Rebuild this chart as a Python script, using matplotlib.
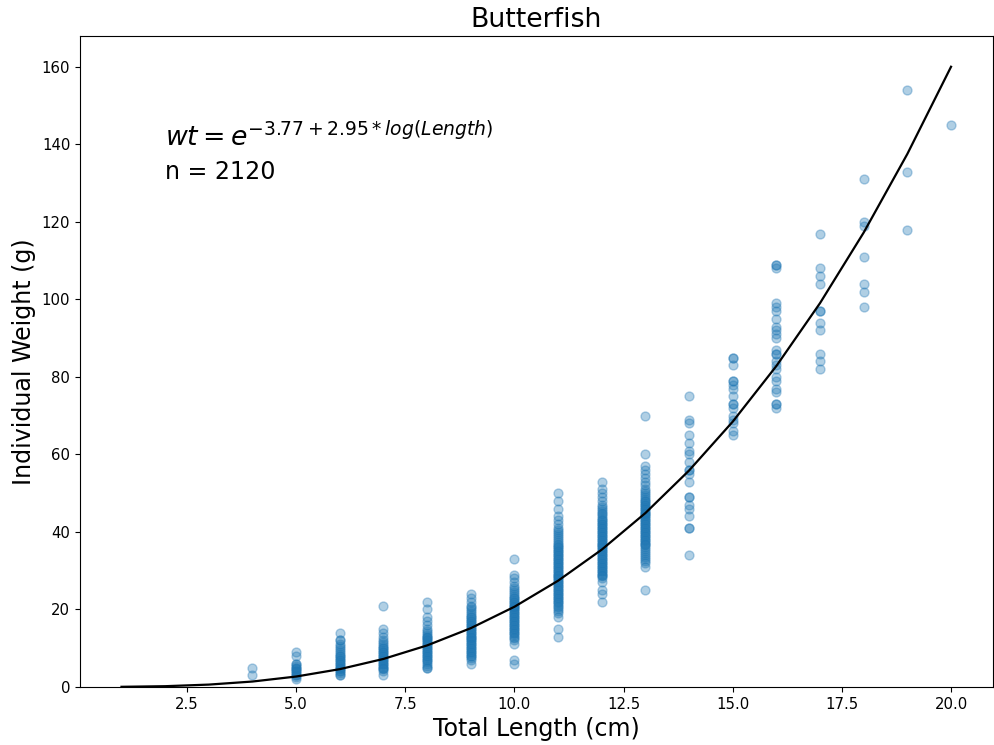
import numpy as np
import matplotlib
matplotlib.use('Agg')
import matplotlib.pyplot as plt

# weight (g) readings per total length (cm)
wt_4 = [3, 5]
wt_5 = [2, 2.5, 3, 3, 3.5, 4, 4, 4.5, 5, 5, 5.5, 6, 6, 8, 9]
wt_6 = [3, 3, 3.5, 4, 4, 4.5, 5, 5, 5.5, 6, 6, 6.5, 7, 7, 7.5, 8, 8, 8.5,
        9, 9.5, 10, 10.5, 11, 12, 12, 14]
wt_7 = [3, 4, 4.5, 5, 5, 5.5, 6, 6, 6.5, 7, 7, 7.5, 8, 8, 8.5, 9, 9, 9.5,
        10, 10, 10.5, 11, 11.5, 12, 13, 14, 15, 21]
wt_8 = [5, 5, 5.5, 6, 6.5, 7, 7, 7.5, 8, 8, 8.5, 9, 9, 9.5, 10, 10, 10.5,
        11, 11, 11.5, 12, 12, 12.5, 13, 13, 13.5, 14, 14.5, 15, 16, 17, 18,
        20, 22]
wt_9 = [6, 7, 7.5, 8, 8, 8.5, 9, 9, 9.5, 10, 10, 10.5, 11, 11, 11.5, 12, 12,
        12.5, 13, 13, 13.5, 14, 14, 14.5, 15, 15, 15.5, 16, 16, 16.5, 17, 17,
        17.5, 18, 18, 18.5, 19, 19.5, 20, 20.5, 21, 22, 23, 24]
wt_10 = [6, 7, 11, 12, 12.5, 13, 13.5, 14, 14, 14.5, 15, 15, 15.5, 16, 16,
         16.5, 17, 17, 17.5, 18, 18, 18.5, 19, 19, 19.5, 20, 20, 20.5, 21, 21,
         21.5, 22, 22, 22.5, 23, 23, 23.5, 24, 24.5, 25, 25.5, 26, 27, 28, 29,
         33]
wt_11 = [13, 15, 18, 19, 19.5, 20, 20.5, 21, 21.5, 22, 22, 22.5, 23, 23,
         23.5, 24, 24, 24.5, 25, 25, 25.5, 26, 26, 26.5, 27, 27, 27.5, 28, 28,
         28.5, 29, 29, 29.5, 30, 30, 30.5, 31, 31, 31.5, 32, 32, 32.5, 33, 33,
         33.5, 34, 34, 34.5, 35, 35, 35.5, 36, 36, 36.5, 37, 37.5, 38, 38.5,
         39, 39.5, 40, 40.5, 41, 42, 43, 44, 46, 48, 50]
wt_12 = [22, 24, 25, 27, 28, 28.5, 29, 29, 29.5, 30, 30, 30.5, 31, 31, 31.5,
         32, 32, 32.5, 33, 33, 33.5, 34, 34, 34.5, 35, 35, 35.5, 36, 36, 36.5,
         37, 37, 37.5, 38, 38, 38.5, 39, 39, 39.5, 40, 40, 40.5, 41, 41, 41.5,
         42, 42, 42.5, 43, 43, 43.5, 44, 44.5, 45, 45.5, 46, 46.5, 47, 48, 49,
         50, 51, 53]
wt_13 = [25, 31, 32, 32.5, 33, 33.5, 34, 34.5, 35, 35.5, 36, 36.5, 37, 37,
         37.5, 38, 38, 38.5, 39, 39, 39.5, 40, 40, 40.5, 41, 41, 41.5, 42, 42,
         42.5, 43, 43, 43.5, 44, 44, 44.5, 45, 45, 45.5, 46, 46, 46.5, 47, 47,
         47.5, 48, 48, 48.5, 49, 49.5, 50, 50.5, 51, 52, 53, 54, 55, 56, 57,
         60, 70]
wt_14 = [34, 41, 41, 44, 46, 47, 49, 49, 53, 55, 56, 56, 58, 60, 61, 63, 65,
         68, 69, 75]
wt_15 = [65, 66, 68, 69, 70, 72, 73, 73, 75, 77, 78, 79, 79, 83, 85, 85]
wt_16 = [72, 73, 73, 76, 77, 79, 80, 82, 83, 84, 86, 86, 87, 90, 91, 92, 93,
         95, 97, 98, 99, 108, 109, 109]
wt_17 = [82, 84, 86, 92, 94, 97, 97, 104, 106, 108, 117]
wt_18 = [98, 102, 104, 111, 119, 120, 131]
wt_19 = [118, 133, 154]
wt_20 = [145]

lengths = [4, 5, 6, 7, 8, 9, 10, 11, 12, 13, 14, 15, 16, 17, 18, 19, 20]
weights = [wt_4, wt_5, wt_6, wt_7, wt_8, wt_9, wt_10, wt_11, wt_12, wt_13,
           wt_14, wt_15, wt_16, wt_17, wt_18, wt_19, wt_20]

# fitted length-weight coefficients (shown rounded in the label)
a_coef = -3.768
b_coef = 2.952
n_fish = 2120

x_pts = np.concatenate([[l] * len(w) for l, w in zip(lengths, weights)])
y_pts = np.concatenate(weights)

fit_len = np.arange(1, 21)
fit_wt = np.exp(a_coef + b_coef * np.log(fit_len))

k = 1.07  # the reference was drawn slightly larger than 100 dpi
plt.rcParams['xtick.labelsize'] = 10 * k
plt.rcParams['ytick.labelsize'] = 10 * k

fig = plt.figure(figsize=(9.94, 7.45), dpi=100)
ax = fig.add_axes([0.0805, 0.078, 0.918, 0.874])
ax.scatter(x_pts, y_pts, color='C0', alpha=0.35, s=36 * k * k)
ax.plot(fit_len, fit_wt, color='k', lw=1.5 * k)
ax.set_ylim(bottom=0)
ax.text(2, 139.5, r'$wt = e^{%.2f + %.2f*log(Length)}$' % (a_coef, b_coef),
        fontsize=18 * k)
ax.text(2, 131, 'n = %d' % n_fish, fontsize=16 * k)
ax.set_title('Butterfish', fontsize=18 * k)
ax.set_xlabel('Total Length (cm)', fontsize=16 * k)
ax.set_ylabel('Individual Weight (g)', fontsize=16 * k)
fig.savefig('out.png', dpi=100)
